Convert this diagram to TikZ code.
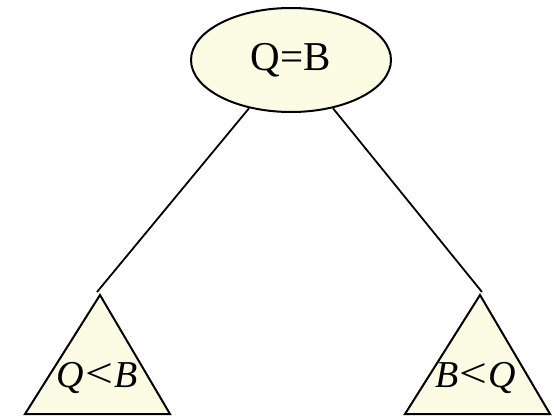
\documentclass[tikz,border=0pt]{standalone}
\usepackage{fontspec}
\setmainfont{Liberation Serif}
\usetikzlibrary{shapes.geometric}
\definecolor{ly}{HTML}{FCFCE4}
\tikzset{
  every picture/.style={x=1pt,y=-1pt},
  rootnode/.style={ellipse,draw,fill=ly,line width=2pt,minimum width=200pt,minimum height=104pt,inner sep=0pt,font=\fontsize{41}{41}\selectfont},
  subtree/.style={draw,fill=ly,line width=2pt,line join=miter},
  edge/.style={line width=1.8pt},
  lab/.style={inner sep=0pt,font=\fontsize{38}{38}\selectfont\itshape}
}
\begin{document}
\begin{tikzpicture}
\useasboundingbox (0,0) rectangle (554,415);
\node[rootnode] (e) at (291,60) {Q=B};
\coordinate (la) at (100,295);
\coordinate (ra) at (480,295);
\draw[subtree] (la) -- (25,414) -- (170,414) -- cycle;
\draw[subtree] (ra) -- (405,414) -- (550,414) -- cycle;
\coordinate (lt) at (97,292);
\coordinate (rt) at (482,292);
\draw[edge] (e.-131) -- (lt);
\draw[edge] (e.-49) -- (rt);
\node[lab] (ql) at (97,378) {Q\kern1pt{\upshape\scalebox{1.3}[1.1]{<}}\kern1ptB};
\node[lab] (qr) at (476,378) {B\kern1pt{\upshape\scalebox{1.3}[1.1]{<}}\kern1ptQ};
\end{tikzpicture}
\end{document}
